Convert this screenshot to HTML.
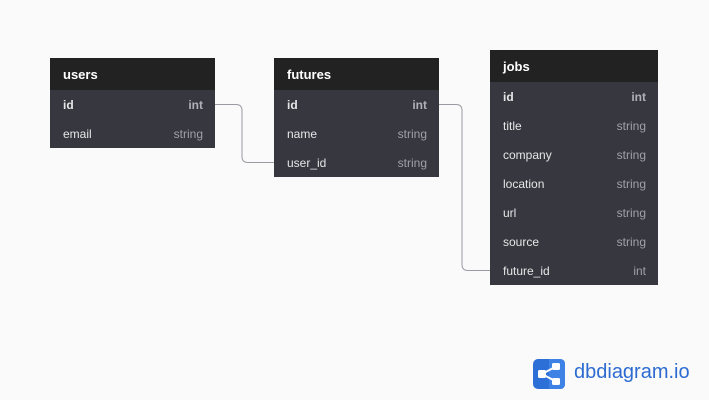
<!DOCTYPE html>
<html><head><style>
body{margin:0;width:709px;height:400px;background:#fafafa;font-family:"Liberation Sans",sans-serif;position:relative;overflow:hidden}
.t{position:absolute;background:#373740}
.h{height:32px;background:#222222;color:#fff;font-weight:bold;font-size:13px;line-height:34px;padding-left:13px}
.r{height:29px;line-height:31px;font-size:12px;color:#e6e6e6;padding:0 12px 0 13px;display:flex;justify-content:space-between;overflow:hidden}
.r span:last-child{color:#a0a0a8}
.b{font-weight:bold}
.b span:last-child{color:#b0b0b8}
</style></head><body>
<svg style="position:absolute;left:0;top:0" width="709" height="400">
<path d="M215 104.5 H236 Q242 104.5 242 110.5 V156.5 Q242 162.5 248 162.5 H274" fill="none" stroke="#9a9aa2" stroke-width="1"/>
<path d="M439 104.5 H456 Q462 104.5 462 110.5 V264.5 Q462 270.5 468 270.5 H490" fill="none" stroke="#9a9aa2" stroke-width="1"/>
</svg>
<div class="t" style="left:50px;top:58px;width:165px">
<div class="h">users</div>
<div class="r b"><span>id</span><span>int</span></div>
<div class="r"><span>email</span><span>string</span></div>
</div>
<div class="t" style="left:274px;top:58px;width:165px">
<div class="h">futures</div>
<div class="r b"><span>id</span><span>int</span></div>
<div class="r"><span>name</span><span>string</span></div>
<div class="r"><span>user_id</span><span>string</span></div>
</div>
<div class="t" style="left:490px;top:50px;width:168px">
<div class="h">jobs</div>
<div class="r b"><span>id</span><span>int</span></div>
<div class="r"><span>title</span><span>string</span></div>
<div class="r"><span>company</span><span>string</span></div>
<div class="r"><span>location</span><span>string</span></div>
<div class="r"><span>url</span><span>string</span></div>
<div class="r"><span>source</span><span>string</span></div>
<div class="r"><span>future_id</span><span>int</span></div>
</div>
<svg style="position:absolute;left:533px;top:359px" width="32" height="30" viewBox="0 0 32 30">
<rect width="32" height="30" rx="5" fill="#2c6fd6"/>
<path d="M16 0 H27 Q32 0 32 5 V25 Q32 30 27 30 H16Z" fill="#3f82e6"/>
<line x1="9" y1="15" x2="22" y2="8" stroke="#fff" stroke-width="2"/>
<line x1="9" y1="15" x2="22" y2="22" stroke="#fff" stroke-width="2"/>
<rect x="5" y="11" width="8" height="8" rx="1.5" fill="#fff"/>
<rect x="19" y="4" width="8" height="7" rx="1.5" fill="#fff"/>
<rect x="19" y="19" width="8" height="7" rx="1.5" fill="#fff"/>
</svg>
<div style="position:absolute;left:574px;top:361px;font-size:20px;color:#2d6bd1">dbdiagram.io</div>
</body></html>
